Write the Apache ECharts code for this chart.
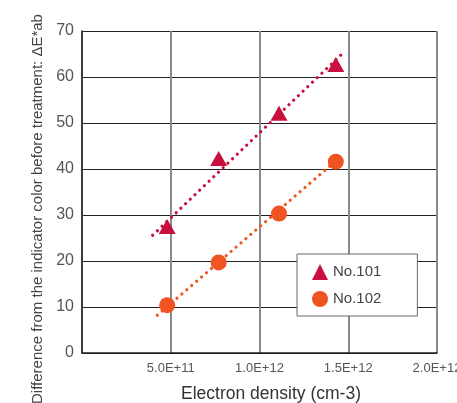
<!DOCTYPE html>
<html>
<head>
<meta charset="utf-8">
<script src="https://cdn.jsdelivr.net/npm/echarts@6/dist/echarts.min.js"></script>
<style>
html,body{margin:0;padding:0;background:#fff;}
#chart{width:457px;height:403px;}
</style>
</head>
<body>
<div id="chart"></div>
<script>
// Data
var seriesNames = ['No.101', 'No.102'];
var x101 = [4.8e11, 7.7e11, 1.11e12, 1.43e12];
var y101 = [27.5, 42.3, 52.1, 62.7];
var x102 = [4.8e11, 7.7e11, 1.11e12, 1.43e12];
var y102 = [10.4, 19.7, 30.3, 41.6];
// trend lines (end points)
var trendX101 = [3.98e11, 1.483e12];
var trendY101 = [25.6, 65.7];
var trendX102 = [4.24e11, 1.455e12];
var trendY102 = [8.2, 42.6];
var yTicks = [0, 10, 20, 30, 40, 50, 60, 70];
var xTicks = [0, 5e11, 1e12, 1.5e12, 2e12];

function pairs(xs, ys) { return xs.map(function (x, i) { return [x, ys[i]]; }); }

var red = '#C8103E';
var orange = '#F05423';
var font = 'Liberation Sans, Arial, sans-serif';

var chart = echarts.init(document.getElementById('chart'), null, {renderer: 'canvas'});
chart.setOption({
  animation: false,
  backgroundColor: '#fff',
  grid: {left: 82, right: 20, top: 31, bottom: 50, containLabel: false, outerBoundsMode: 'none'},
  xAxis: {
    type: 'value', min: xTicks[0], max: xTicks[xTicks.length - 1], interval: 5e11,
    name: 'Electron density (cm-3)', nameLocation: 'middle', nameGap: 32,
    nameTextStyle: {fontFamily: font, fontSize: 17.5, color: '#333', padding: [0, 0, 0, 23]},
    axisLine: {show: true, lineStyle: {color: '#222', width: 1.5}},
    axisTick: {show: false},
    axisLabel: {
      fontFamily: font, fontSize: 13, color: '#555', margin: 9,
      showMinLabel: false, hideOverlap: false,
      formatter: function (v) { return v === 0 ? '' : v.toExponential(1).toUpperCase(); }
    },
    splitLine: {show: true, lineStyle: {color: '#8a8a8a', width: 2}}
  },
  yAxis: {
    type: 'value', min: yTicks[0], max: yTicks[yTicks.length - 1], interval: 10,
    name: 'Difference from the indicator color before treatment: ΔE*ab',
    nameLocation: 'middle', nameGap: 37,
    nameTextStyle: {fontFamily: font, fontSize: 15, color: '#444', padding: [0, 34, 0, 0]},
    axisLine: {show: true, lineStyle: {color: '#222', width: 1.5}},
    axisTick: {show: false},
    axisLabel: {fontFamily: font, fontSize: 16, color: '#555', margin: 8},
    splitLine: {show: true, lineStyle: {color: '#222', width: 1}}
  },
  legend: {
    data: [
      {name: seriesNames[0], icon: 'triangle'},
      {name: seriesNames[1], icon: 'circle'}
    ],
    orient: 'vertical', left: 297, top: 254,
    padding: [10, 36, 9, 15],
    itemWidth: 16, itemHeight: 16, itemGap: 11,
    backgroundColor: '#fff', borderColor: '#666', borderWidth: 1,
    textStyle: {fontFamily: font, fontSize: 15, color: '#444'}
  },
  series: [
    {
      name: seriesNames[0] + ' trend', type: 'line', data: pairs(trendX101, trendY101),
      symbol: 'none', silent: true,
      lineStyle: {color: red, width: 3.2, type: [0.01, 6.5], cap: 'round'}, z: 2
    },
    {
      name: seriesNames[1] + ' trend', type: 'line', data: pairs(trendX102, trendY102),
      symbol: 'none', silent: true,
      lineStyle: {color: orange, width: 3.2, type: [0.01, 6.5], cap: 'round'}, z: 2
    },
    {
      name: seriesNames[0], type: 'scatter', data: pairs(x101, y101),
      symbol: 'triangle', symbolSize: [17, 15],
      itemStyle: {color: red, opacity: 1}, z: 3
    },
    {
      name: seriesNames[1], type: 'scatter', data: pairs(x102, y102),
      symbol: 'circle', symbolSize: 16,
      itemStyle: {color: orange, opacity: 1}, z: 3
    }
  ]
});
</script>
</body>
</html>
